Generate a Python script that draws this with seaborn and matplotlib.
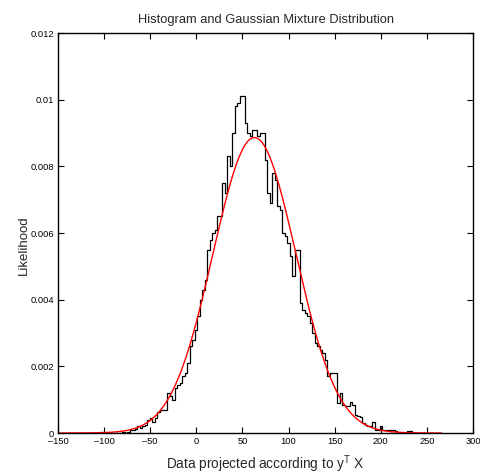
import numpy as np
import pandas as pd
import matplotlib
matplotlib.use("Agg")
import matplotlib.pyplot as plt
import seaborn as sns

# histogram of the projected data (bin heights, x1e-4)
bin_start = -104.5
bin_width = 2.711
bin_heights_e4 = [
    0.4, 0, 0, 0, 0, 0, 0, 0, 0, 0.4,
    0, 0.4, 0.8, 0.8, 1.2, 2, 1.6, 2, 2.4, 4,
    4.4, 3.4, 4.4, 6.4, 7, 7, 7, 12, 11, 10,
    13.4, 14.4, 15, 17, 18, 21, 26, 28, 31, 35,
    40, 43, 46, 55, 58, 60, 61, 65, 65, 75,
    72, 83, 80, 90, 98, 99, 101, 101, 93, 90,
    89, 91, 91, 89, 90, 90, 82, 72, 69, 78,
    76, 68, 67, 60, 59, 57, 53, 47, 55, 55,
    39, 37, 36, 35, 33, 30, 27, 26, 25, 24,
    22, 17, 18, 18, 18, 9, 12, 8.4, 8, 8,
    9.4, 8.4, 5.4, 5, 4.9, 3, 2.4, 2, 2, 3.4,
    1, 1, 2, 1, 1, 1, 1, 1, 0.5, 0,
    0, 0, 0, 0.5, 0.5, 0,
]

# fitted gaussian mixture (one component)
mix_weights = [1.0]
mix_means = [63.0]
mix_sds = [45.0]
curve_range = (-150, 266)

x_ticks = [-150, -100, -50, 0, 50, 100, 150, 200, 250, 300]
y_ticks = [0, 0.002, 0.004, 0.006, 0.008, 0.01, 0.012]

heights = np.array(bin_heights_e4) * 1e-4
n_bins = len(heights)
centers = bin_start + bin_width * (np.arange(n_bins) + 0.5)
hist_df = pd.DataFrame({"x": centers, "w": heights})

xs = np.linspace(curve_range[0], curve_range[1], 500)
pdf = np.zeros_like(xs)
for w, m, s in zip(mix_weights, mix_means, mix_sds):
    pdf += w * np.exp(-0.5 * ((xs - m) / s) ** 2) / (s * np.sqrt(2 * np.pi))
curve_df = pd.DataFrame({"x": xs, "pdf": pdf})

sns.set_style("ticks")
plt.rcParams["font.family"] = ["Liberation Sans", "DejaVu Sans"]
plt.rcParams["mathtext.fontset"] = "custom"
plt.rcParams["mathtext.rm"] = "Liberation Sans"
plt.rcParams["mathtext.it"] = "Liberation Sans"

fig = plt.figure(figsize=(4.81, 4.75), dpi=100)
ax = fig.add_axes([0.1206, 0.0884, 0.8628, 0.8421])

sns.histplot(data=hist_df, x="x", weights="w", bins=n_bins,
             binrange=(bin_start, bin_start + n_bins * bin_width),
             element="step", fill=False, color="black", linewidth=0.9, ax=ax)
sns.lineplot(data=curve_df, x="x", y="pdf", color="red", linewidth=1.0, ax=ax)

ax.set_xlim(-150, 300)
ax.set_ylim(0, 0.012)
ax.set_xticks(x_ticks)
ax.set_xticklabels([str(t).replace("-", "\u2013") for t in x_ticks])
ax.set_yticks(y_ticks)
ax.set_yticklabels([("%g" % t) for t in y_ticks])
ax.tick_params(direction="in", top=True, right=True, length=4, width=0.8,
               labelsize=6.7, colors="black", pad=3)
for sp in ax.spines.values():
    sp.set_visible(True)
    sp.set_linewidth(1.0)
    sp.set_color("black")

ax.set_title("Histogram and Gaussian Mixture Distribution", fontsize=9.3, pad=7)
ax.set_xlabel("Data projected according to y$^{\\mathrm{T}}$ X", fontsize=9.8, labelpad=5)
ax.set_ylabel("Likelihood", fontsize=9.5)
ax.yaxis.set_label_coords(-0.068, 0.47)

fig.savefig("out.png", dpi=100)
